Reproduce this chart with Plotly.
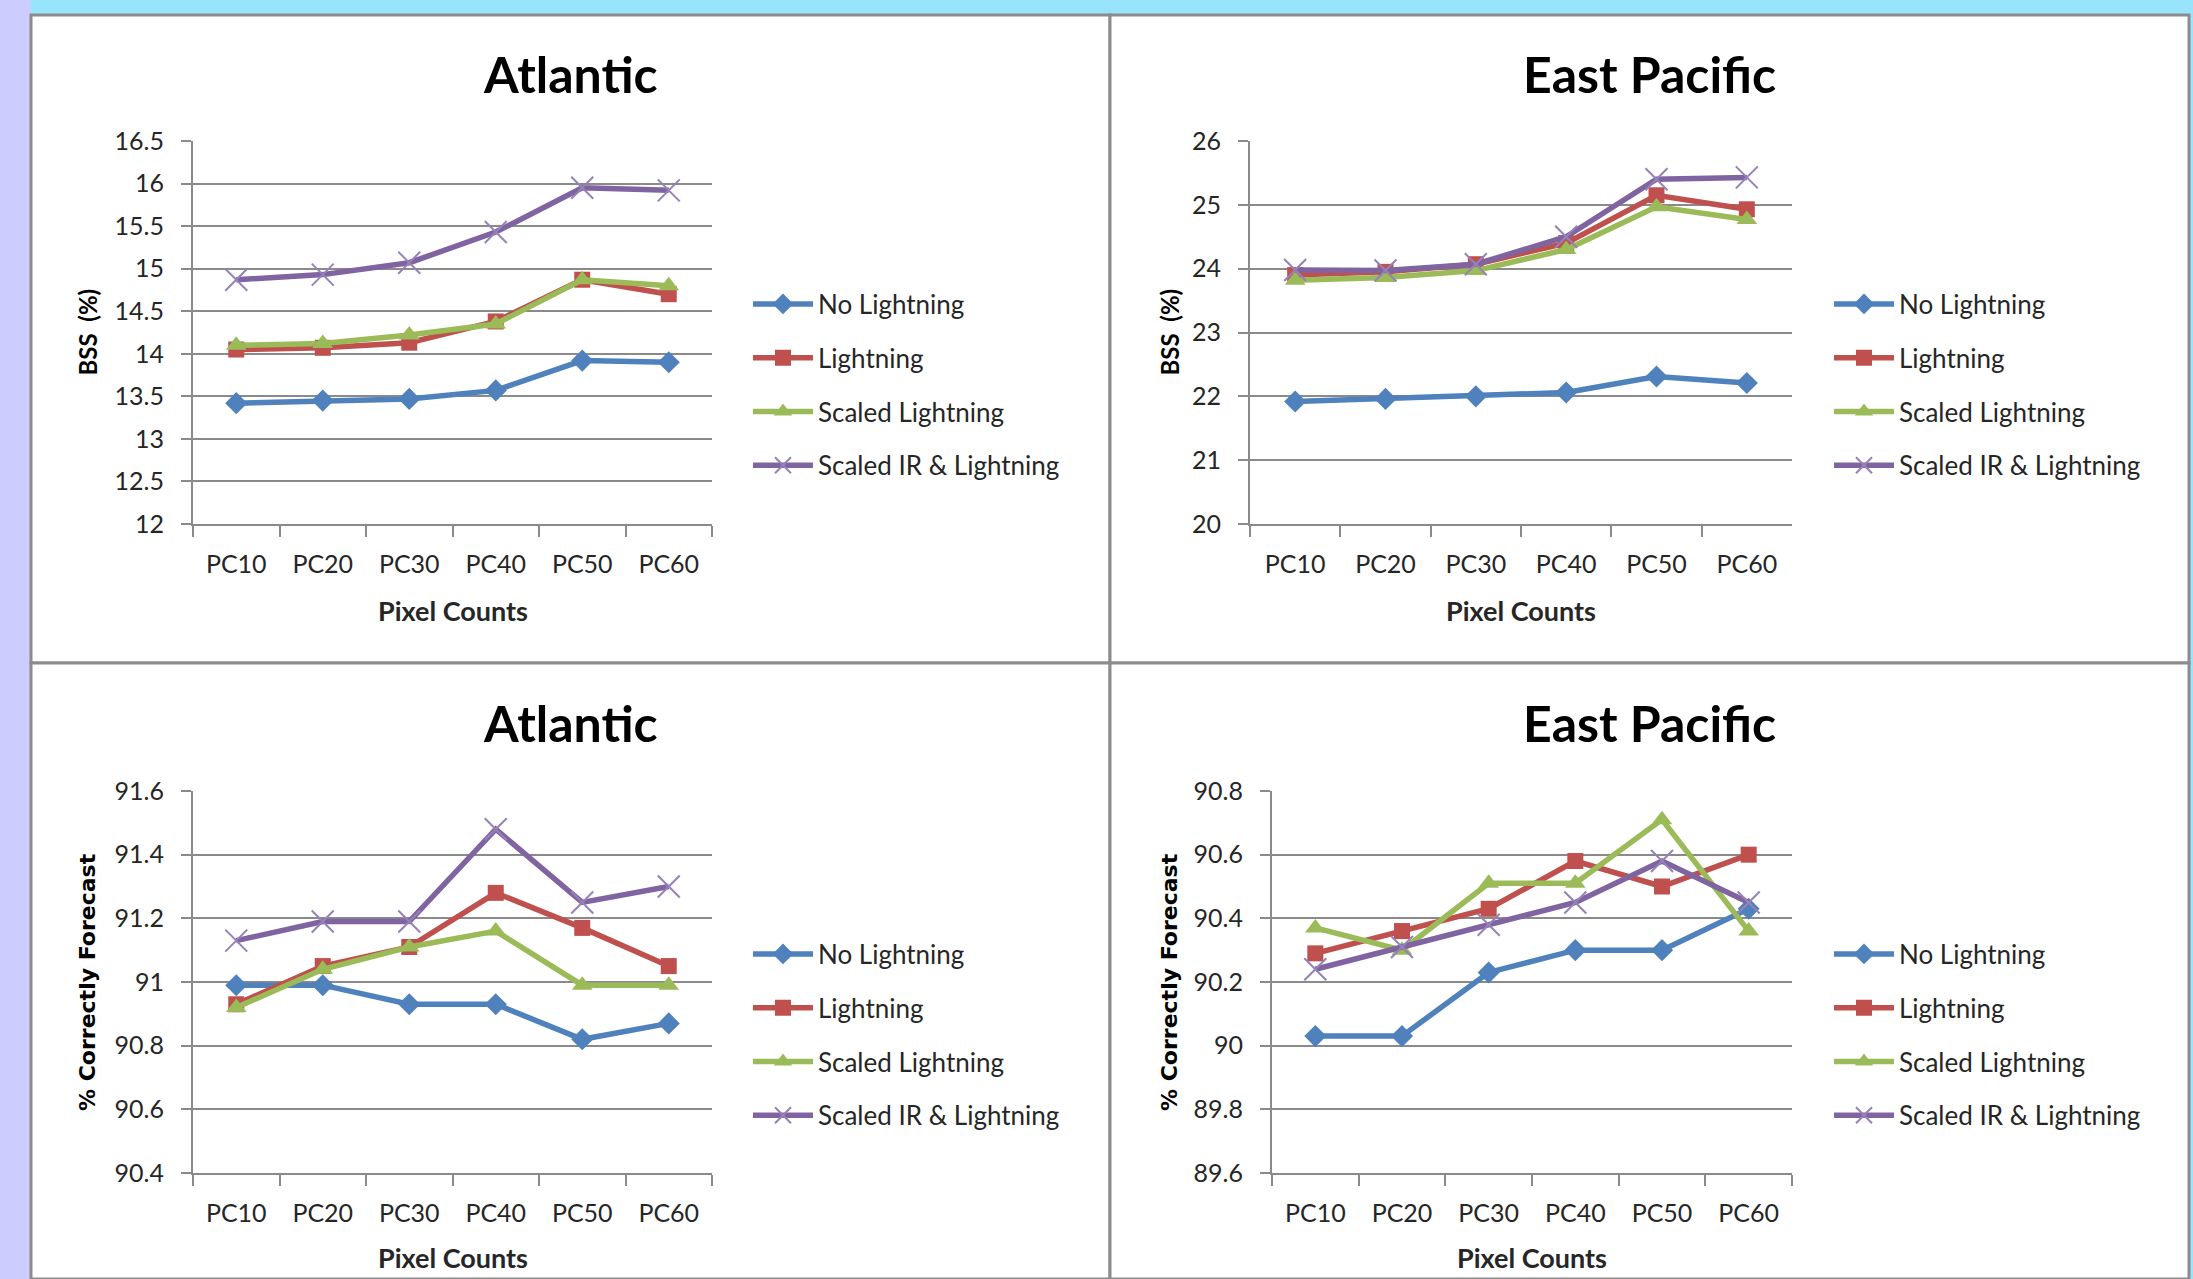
import plotly.graph_objects as go

# Canvas size in pixels
W, H = 2193, 1279

# ---- data -------------------------------------------------------------
categories = ["PC10", "PC20", "PC30", "PC40", "PC50", "PC60"]
series_names = ["No Lightning", "Lightning", "Scaled Lightning", "Scaled IR & Lightning"]

# Atlantic, Brier skill score (%)
atl_bss_no_lightning = [13.42, 13.45, 13.47, 13.57, 13.92, 13.90]
atl_bss_lightning = [14.05, 14.07, 14.13, 14.38, 14.87, 14.70]
atl_bss_scaled = [14.10, 14.12, 14.22, 14.35, 14.87, 14.80]
atl_bss_scaled_ir = [14.87, 14.93, 15.07, 15.43, 15.95, 15.92]

# East Pacific, Brier skill score (%)
ep_bss_no_lightning = [21.92, 21.96, 22.00, 22.06, 22.31, 22.21]
ep_bss_lightning = [23.90, 23.95, 24.07, 24.40, 25.15, 24.93]
ep_bss_scaled = [23.82, 23.86, 23.97, 24.30, 24.97, 24.77]
ep_bss_scaled_ir = [23.98, 23.97, 24.07, 24.50, 25.40, 25.43]

# Atlantic, % correctly forecast
atl_pcf_no_lightning = [90.99, 90.99, 90.93, 90.93, 90.82, 90.87]
atl_pcf_lightning = [90.93, 91.05, 91.11, 91.28, 91.17, 91.05]
atl_pcf_scaled = [90.92, 91.04, 91.11, 91.16, 90.99, 90.99]
atl_pcf_scaled_ir = [91.13, 91.19, 91.19, 91.48, 91.25, 91.30]

# East Pacific, % correctly forecast
ep_pcf_no_lightning = [90.03, 90.03, 90.23, 90.30, 90.30, 90.43]
ep_pcf_lightning = [90.29, 90.36, 90.43, 90.58, 90.50, 90.60]
ep_pcf_scaled = [90.37, 90.30, 90.51, 90.51, 90.71, 90.36]
ep_pcf_scaled_ir = [90.24, 90.31, 90.38, 90.45, 90.58, 90.45]

panel_titles = ["Atlantic", "East Pacific", "Atlantic", "East Pacific"]
y_titles = ["BSS  (%)", "BSS  (%)", "% Correctly Forecast", "% Correctly Forecast"]
x_title = "Pixel Counts"
y_ranges = [(12, 16.5), (20, 26), (90.4, 91.6), (89.6, 90.8)]
y_steps = [0.5, 1, 0.2, 0.2]

panel_values = [
    [atl_bss_no_lightning, atl_bss_lightning, atl_bss_scaled, atl_bss_scaled_ir],
    [ep_bss_no_lightning, ep_bss_lightning, ep_bss_scaled, ep_bss_scaled_ir],
    [atl_pcf_no_lightning, atl_pcf_lightning, atl_pcf_scaled, atl_pcf_scaled_ir],
    [ep_pcf_no_lightning, ep_pcf_lightning, ep_pcf_scaled, ep_pcf_scaled_ir],
]

# ---- styling ----------------------------------------------------------
colors = ["#4F81BD", "#C0504D", "#9BBB59", "#8064A2"]
symbols = ["diamond", "square", "triangle-up", "x-thin-open"]
sizes = [17, 16, 18, 22]
GRID = "#8a8a8a"
TEXT = "#262626"
BODY_FONT = "Lato"
YT_FONT = ["Lato", "Lato", "DejaVu Sans", "DejaVu Sans"]
YT_SIZE = [24, 24, 22, 22]

# panel frames (left, top, right, bottom) in pixels
frames = [(31, 15, 1110, 663), (1110, 15, 2189, 663),
          (31, 663, 1110, 1279), (1110, 663, 2189, 1279)]
# plot areas (left, top, right, bottom) in pixels
plots = [(193, 141, 712, 524), (1250, 141, 1792, 524),
         (193, 791, 712, 1173), (1272, 791, 1792, 1173)]
# legend anchor (x of symbol start, vertical centre)
legend_pos = [(748, 385), (1829, 385), (748, 1035), (1829, 1035)]
title_y = [74, 74, 723, 723]
ytitle_x = [87, 1169, 87, 1169]
xtitle_y = [610, 610, 1257, 1257]


def fx(px):
    return px / W


def fy(py):
    return 1 - py / H


fig = go.Figure()
shapes = []
annotations = []
layout_axes = {}

# left page strip
shapes.append(dict(type="rect", xref="paper", yref="paper", x0=0, x1=fx(31), y0=0, y1=1,
                   fillcolor="#CCCCFF", line=dict(width=0), layer="below"))

for k in range(4):
    sfx = "" if k == 0 else str(k + 1)
    xa, ya = "x" + sfx, "y" + sfx
    lg = "legend" + sfx
    l, t, r, b = frames[k]
    shapes.append(dict(type="rect", xref="paper", yref="paper",
                       x0=fx(l), x1=fx(r), y0=fy(b), y1=fy(t),
                       fillcolor="white", line=dict(color="#8c8c8c", width=3), layer="below"))
    pl, pt, pr, pb = plots[k]
    y0, y1 = y_ranges[k]

    for j in range(4):
        marker = dict(symbol=symbols[j], size=sizes[j], color=colors[j], line=dict(width=0))
        if symbols[j].startswith("x"):
            marker = dict(symbol=symbols[j], size=sizes[j], color="#9682B8",
                          line=dict(width=2, color="#9682B8"))
        fig.add_trace(go.Scatter(
            x=categories, y=panel_values[k][j], name=series_names[j],
            mode="lines+markers", xaxis=xa, yaxis=ya, legend=lg,
            legendgroup=f"{k}-{j}",
            line=dict(color=colors[j], width=5.5),
            marker=marker, cliponaxis=False,
        ))

    layout_axes["xaxis" + sfx] = dict(
        domain=[fx(pl), fx(pr)], anchor=ya, type="category",
        range=[-0.5, 5.5], tickson="boundaries", ticks="outside", ticklen=11,
        tickwidth=2, tickcolor=GRID, showline=True, linecolor=GRID, linewidth=2,
        showgrid=False, zeroline=False, fixedrange=True, ticklabelstandoff=17,
        automargin=False,
        tickfont=dict(family=BODY_FONT, size=25, color=TEXT),
    )
    layout_axes["yaxis" + sfx] = dict(
        domain=[fy(pb), fy(pt)], anchor=xa, range=[y0, y1],
        tick0=y0, dtick=y_steps[k], ticks="outside", ticklen=10, tickwidth=2,
        tickcolor=GRID, showline=True, linecolor=GRID, linewidth=2,
        showgrid=True, gridcolor=GRID, gridwidth=2, zeroline=False,
        fixedrange=True, ticklabelstandoff=12, automargin=False,
        tickfont=dict(family=BODY_FONT, size=25, color=TEXT),
    )
    lx, ly = legend_pos[k]
    layout_axes[lg] = dict(
        x=fx(lx), y=fy(ly), xanchor="left", yanchor="middle",
        bgcolor="rgba(0,0,0,0)", borderwidth=0, tracegroupgap=17,
        itemwidth=60, font=dict(family=BODY_FONT, size=26, color=TEXT),
    )

    cx = (l + r) / 2
    annotations.append(dict(text="<b>" + panel_titles[k] + "</b>", xref="paper", yref="paper",
                            x=fx(cx), y=fy(title_y[k]), xanchor="center", yanchor="middle",
                            showarrow=False, font=dict(family=BODY_FONT, size=50, color="black")))
    annotations.append(dict(text="<b>" + x_title + "</b>", xref="paper", yref="paper",
                            x=fx((pl + pr) / 2), y=fy(xtitle_y[k]), xanchor="center",
                            yanchor="middle", showarrow=False,
                            font=dict(family=BODY_FONT, size=27, color=TEXT)))
    annotations.append(dict(text="<b>" + y_titles[k] + "</b>", xref="paper", yref="paper",
                            x=fx(ytitle_x[k]), y=fy((pt + pb) / 2), xanchor="center",
                            yanchor="middle", textangle=-90, showarrow=False,
                            font=dict(family=YT_FONT[k], size=YT_SIZE[k], color="black")))

fig.update_layout(
    width=W, height=H,
    margin=dict(l=0, r=0, t=0, b=0, pad=0, autoexpand=False),
    paper_bgcolor="#97E4FC", plot_bgcolor="white",
    shapes=shapes, annotations=annotations, **layout_axes,
)

fig.write_html("out.html", config={"displayModeBar": False})
